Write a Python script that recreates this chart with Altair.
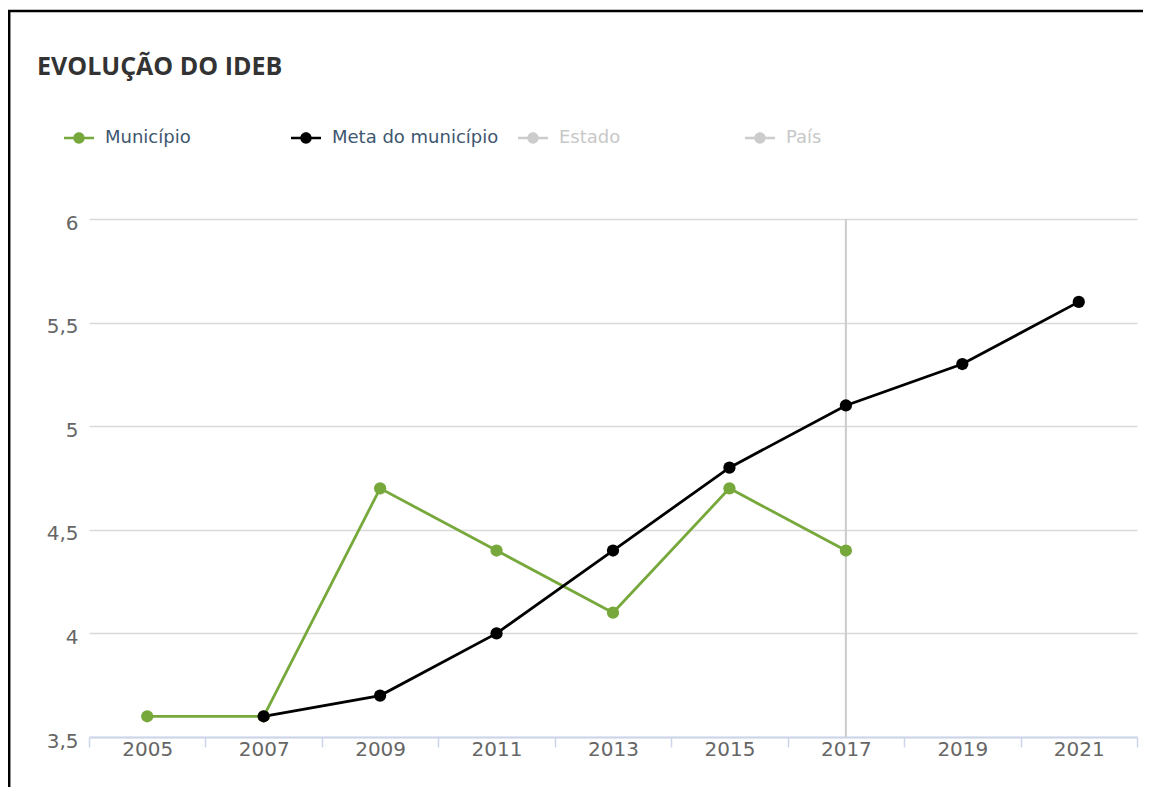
import altair as alt
import pandas as pd

# ---- data ----
years = ['2005', '2007', '2009', '2011', '2013', '2015', '2017', '2019', '2021']
municipio_years = ['2005', '2007', '2009', '2011', '2013', '2015', '2017']
municipio_vals = [3.6, 3.6, 4.7, 4.4, 4.1, 4.7, 4.4]
meta_years = ['2007', '2009', '2011', '2013', '2015', '2017', '2019', '2021']
meta_vals = [3.6, 3.7, 4.0, 4.4, 4.8, 5.1, 5.3, 5.6]
series_names = ['Município', 'Meta do município', 'Estado', 'País']
series_colors = ['#77a83b', '#000000', '#cccccc', '#cccccc']
hidden_series = ['Estado', 'País']
y_ticks = [3.5, 4, 4.5, 5, 5.5, 6]
crosshair_year = ['2017']
title_text = 'EVOLUÇÃO DO IDEB'

df = pd.concat([
    pd.DataFrame({'ano': municipio_years, 'ideb': municipio_vals, 'serie': 'Município'}),
    pd.DataFrame({'ano': meta_years, 'ideb': meta_vals, 'serie': 'Meta do município'}),
], ignore_index=True)

W, H = 1048, 518
LABEL_FONT = 'DejaVu Sans'

x_scale = alt.Scale(type='band', domain=years, paddingInner=0, paddingOuter=0)
y_scale = alt.Scale(domain=[3.5, 6], nice=False, zero=False)

x_axis = alt.Axis(title=None, labelAngle=0, labelAlign='center', tickBand='extent',
                  tickSize=10, tickColor='#ccd6eb', tickWidth=1.5,
                  domainColor='#ccd6eb', domainWidth=2, labelFontSize=20,
                  labelColor='#666666', labelFont=LABEL_FONT, labelPadding=2,
                  grid=False)
y_axis = alt.Axis(title=None, values=y_ticks,
                  labelExpr="replace(toString(datum.value), '.', ',')",
                  domain=False, ticks=False, grid=True, gridColor='#d9d9d9',
                  gridWidth=1.5, labelPadding=11, labelFontSize=20,
                  labelColor='#666666', labelFont=LABEL_FONT, labelOffset=4)

# legend symbol: short line + dot, drawn as one filled path
sym_path = ('M-1,-0.09L-0.3,-0.09L-0.3,0.09L-1,0.09Z'
            'M0.3,-0.09L1,-0.09L1,0.09L0.3,0.09Z'
            'M-0.38,0A0.38,0.38 0 1,1 0.38,0A0.38,0.38 0 1,1 -0.38,0Z')

hidden_list = "[" + ", ".join("'" + s + "'" for s in hidden_series) + "]"
label_color_expr = "indexof(" + hidden_list + ", datum.label) >= 0 ? '#c8c8c8' : '#3e576f'"

legend = alt.Legend(orient='none', legendX=-26, legendY=-97, direction='horizontal',
                    columns=4, gridAlign='all', title=None, symbolType=sym_path,
                    symbolSize=900, labelFont=LABEL_FONT, labelFontSize=18,
                    labelColor={'expr': label_color_expr}, labelOffset=10,
                    columnPadding=18, labelLimit=400)

base = alt.Chart(df)

# line colours: own scale (only the drawn series) so it is not merged into the legend
lines = base.mark_line(strokeWidth=2.8).encode(
    x=alt.X('ano:O', scale=x_scale, axis=x_axis),
    y=alt.Y('ideb:Q', scale=y_scale, axis=y_axis),
    stroke=alt.Stroke('serie:N', scale=alt.Scale(domain=series_names[:2],
                                                 range=series_colors[:2]),
                      legend=None),
    detail='serie:N',
)

points = base.mark_circle(size=150, opacity=1).encode(
    x=alt.X('ano:O', scale=x_scale),
    y=alt.Y('ideb:Q', scale=y_scale),
    color=alt.Color('serie:N', scale=alt.Scale(domain=series_names, range=series_colors),
                    legend=legend),
)

crosshair = alt.Chart(pd.DataFrame({'ano': crosshair_year})).mark_rule(
    color='#cccccc', strokeWidth=2).encode(
    x=alt.X('ano:O', scale=x_scale),
    y=alt.datum(6),
    y2=alt.datum(3.5),
)

title = alt.Chart(pd.DataFrame({'titulo': [title_text]})).mark_text(
    align='left', baseline='alphabetic', font='Open Sans', fontSize=25,
    fontWeight='bold', color='#333333').encode(
    text='titulo:N', x=alt.value(-52), y=alt.value(-144))

frame = alt.Chart(pd.DataFrame({'moldura': [0]})).mark_rect(
    filled=False, stroke='#000000', strokeWidth=2.5).encode(
    x=alt.value(-79.8), x2=alt.value(1100), y=alt.value(-208), y2=alt.value(700))

chart = alt.layer(crosshair, lines, points, title, frame).properties(
    width=W, height=H,
    background='#ffffff',
    padding={'left': 81, 'top': 211, 'right': 6, 'bottom': 50},
    autosize=alt.AutoSizeParams(type='none'),
).configure_view(stroke=None)

chart.save('out.html', embed_options={'renderer': 'svg', 'actions': False})
